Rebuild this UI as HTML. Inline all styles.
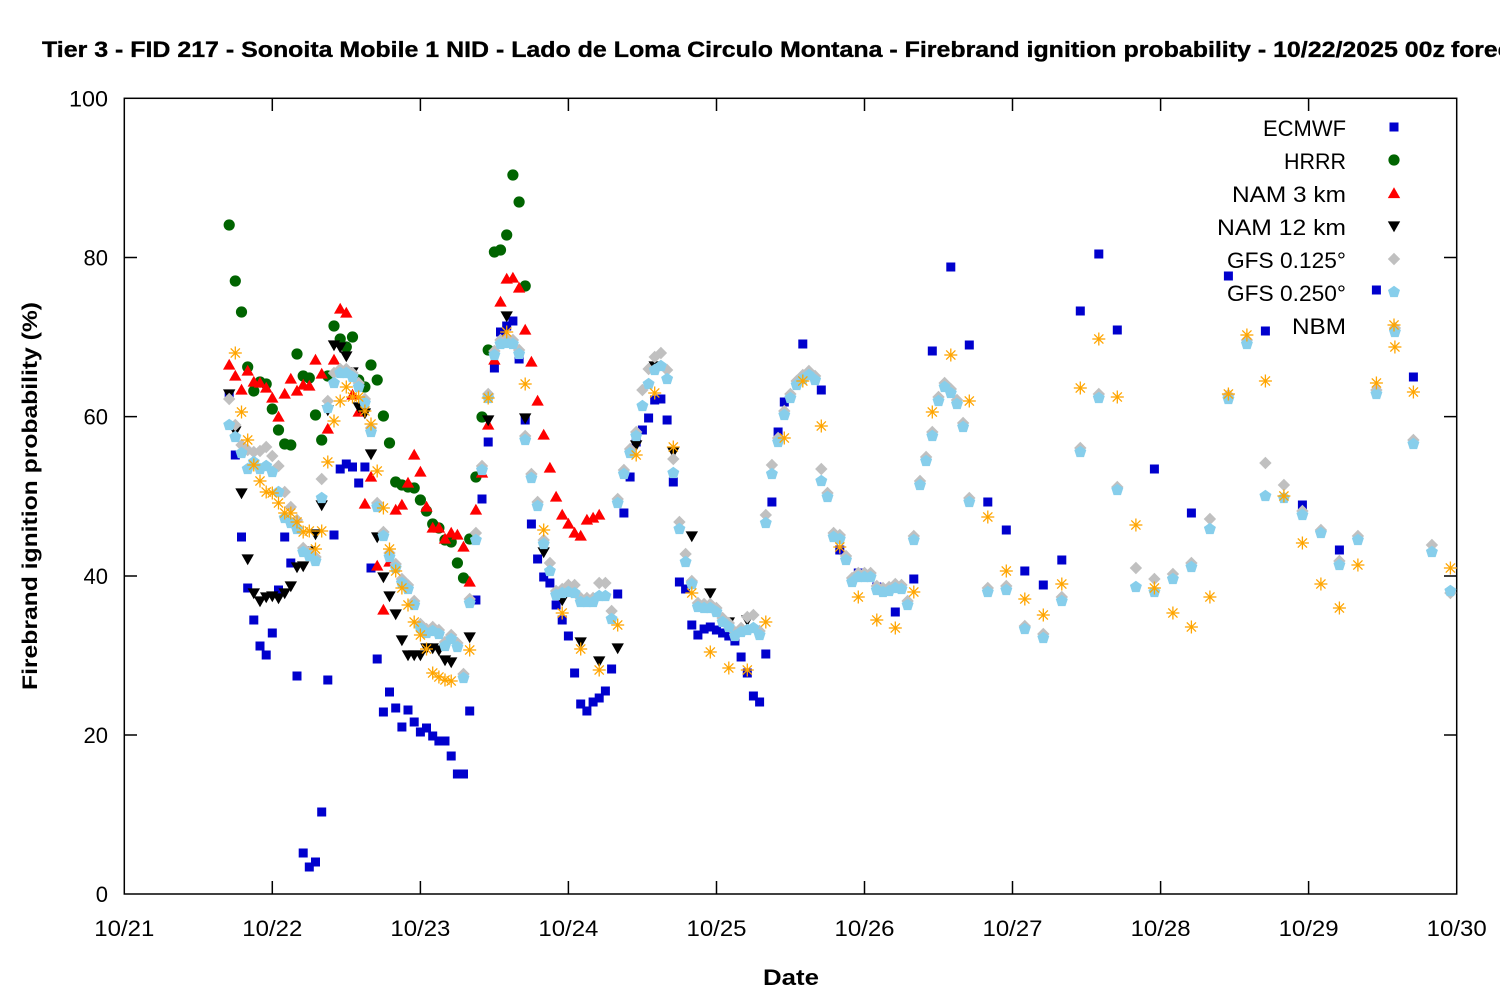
<!DOCTYPE html>
<html><head><meta charset="utf-8"><style>
html,body{margin:0;padding:0;background:#fff;}
svg{display:block;}
text{font-family:"Liberation Sans",Arial,sans-serif;fill:#000;}
</style></head><body>
<svg id="s" xmlns="http://www.w3.org/2000/svg" width="1500" height="1000" viewBox="0 0 1500 1000">
<defs>
<rect id="sq" x="-4.5" y="-4.5" width="9" height="9" fill="#0000cd"/>
<circle id="ci" r="5.6" fill="#006400"/>
<polygon id="tu" points="0,-6.2 6.2,4.6 -6.2,4.6" fill="#ff0000"/>
<polygon id="td" points="0,6.2 6.2,-4.6 -6.2,-4.6" fill="#000000"/>
<polygon id="di" points="0,-6.2 6.2,0 0,6.2 -6.2,0" fill="#c0c0c0"/>
<polygon id="pe" points="0,-6.3 6,-1.95 3.7,5.1 -3.7,5.1 -6,-1.95" fill="#87ceeb"/>
<g id="as" stroke="#ffa500" stroke-width="1.3" fill="none"><line x1="-6.5" y1="0" x2="6.5" y2="0"/><line x1="0" y1="-6.5" x2="0" y2="6.5"/><line x1="-4.6" y1="-4.6" x2="4.6" y2="4.6"/><line x1="-4.6" y1="4.6" x2="4.6" y2="-4.6"/></g>
</defs>
<rect x="0" y="0" width="1500" height="1000" fill="#fff"/>
<text x="42" y="57" font-size="22" font-weight="bold" stroke="#000" stroke-width="0.35" textLength="1403" lengthAdjust="spacingAndGlyphs">Tier 3 - FID 217 - Sonoita Mobile 1 NID - Lado de Loma Circulo Montana - Firebrand ignition probability - 10/22/2025 00z</text>
<text x="1451" y="57" font-size="22" font-weight="bold" stroke="#000" stroke-width="0.35" textLength="96" lengthAdjust="spacingAndGlyphs">forecast</text>
<g stroke="#000" stroke-width="1.5" fill="none">
<rect x="124.3" y="98.3" width="1332.4" height="795.7"/>
<path d="M124.3 735H137M124.3 576H137M124.3 416.6H137M124.3 257.5H137M1456.7 735H1444M1456.7 576H1444M1456.7 416.6H1444M1456.7 257.5H1444"/>
<path d="M272.3 894V881M420.4 894V881M568.4 894V881M716.5 894V881M864.5 894V881M1012.5 894V881M1160.6 894V881M1308.6 894V881M272.3 98.3V111M420.4 98.3V111M568.4 98.3V111M716.5 98.3V111M864.5 98.3V111M1012.5 98.3V111M1160.6 98.3V111M1308.6 98.3V111"/>
</g>
<g font-size="22" text-anchor="end">
<text x="108" y="902">0</text>
<text x="108" y="743">20</text>
<text x="108" y="584">40</text>
<text x="108" y="424.6">60</text>
<text x="108" y="265.5">80</text>
<text x="108" y="106.3" textLength="39" lengthAdjust="spacingAndGlyphs">100</text>
</g>
<g font-size="22" text-anchor="middle">
<text x="124.3" y="936" textLength="60" lengthAdjust="spacingAndGlyphs">10/21</text>
<text x="272.3" y="936" textLength="60" lengthAdjust="spacingAndGlyphs">10/22</text>
<text x="420.4" y="936" textLength="60" lengthAdjust="spacingAndGlyphs">10/23</text>
<text x="568.4" y="936" textLength="60" lengthAdjust="spacingAndGlyphs">10/24</text>
<text x="716.5" y="936" textLength="60" lengthAdjust="spacingAndGlyphs">10/25</text>
<text x="864.5" y="936" textLength="60" lengthAdjust="spacingAndGlyphs">10/26</text>
<text x="1012.5" y="936" textLength="60" lengthAdjust="spacingAndGlyphs">10/27</text>
<text x="1160.6" y="936" textLength="60" lengthAdjust="spacingAndGlyphs">10/28</text>
<text x="1308.6" y="936" textLength="60" lengthAdjust="spacingAndGlyphs">10/29</text>
<text x="1456.7" y="936" textLength="60" lengthAdjust="spacingAndGlyphs">10/30</text>
</g>
<text x="791" y="985" font-size="22" font-weight="bold" text-anchor="middle" textLength="56" lengthAdjust="spacingAndGlyphs">Date</text>
<text transform="translate(37,496) rotate(-90)" font-size="21" font-weight="bold" text-anchor="middle" textLength="388" lengthAdjust="spacingAndGlyphs">Firebrand ignition probability (%)</text>
<g font-size="22" text-anchor="end">
<text x="1346" y="136" textLength="83" lengthAdjust="spacingAndGlyphs">ECMWF</text>
<text x="1346" y="169" textLength="62" lengthAdjust="spacingAndGlyphs">HRRR</text>
<text x="1346" y="202" textLength="114" lengthAdjust="spacingAndGlyphs">NAM 3 km</text>
<text x="1346" y="235" textLength="129" lengthAdjust="spacingAndGlyphs">NAM 12 km</text>
<text x="1346" y="268" textLength="119" lengthAdjust="spacingAndGlyphs">GFS 0.125°</text>
<text x="1346" y="301" textLength="119" lengthAdjust="spacingAndGlyphs">GFS 0.250°</text>
<text x="1346" y="334" textLength="54" lengthAdjust="spacingAndGlyphs">NBM</text>
</g>
<g id="pts"></g>
</svg>
<script>
(function(){
var ns="http://www.w3.org/2000/svg";
var g=document.getElementById("pts");
function X(h){return 124.3+6.168*h;}
function parse(s){return s.split(",").map(function(p){var a=p.split(":");return [parseFloat(a[0]),parseFloat(a[1])];});}
function put(id,x,y){var u=document.createElementNS(ns,"use");u.setAttribute("href","#"+id);u.setAttributeNS("http://www.w3.org/1999/xlink","xlink:href","#"+id);u.setAttribute("x",x.toFixed(1));u.setAttribute("y",y.toFixed(1));g.appendChild(u);}
function add(id,arr){arr.forEach(function(p){put(id,X(p[0]),p[1]);});}
var EC=parse("17:394,18:455,19:537,20:588,21:620,22:646,23:655,24:633,25:590,26:537,27:563,28:676,29:853,30:867,31:862,32:812,33:680,34:535,35:469,36:464,37:467,38:483,39:467,40:568,41:659,42:712,43:692,44:708,45:727,46:710,47:722,48:732,49:728,50:736,51:741,52:741,53:756,54:774,55:774,56:711,57:600,58:499,59:442,60:368,61:332,62:326,63:321,64:359,65:420,66:524,67:559,68:577,69:583,70:605,71:620,72:636,73:673,74:704,75:711,76:702,77:698,78:691,79:669,80:594,81:513,82:477,83:442,84:430,85:418,86:400,87:399,88:420,89:482,90:582,91:589,92:625,93:635,94:629,95:627,96:630,97:633,98:636,99:641,100:657,101:673,102:696,103:702,104:654,105:502,106:432,107:402,110:344,113:390,116:550,119:573,122:587,125:612,128:579,131:351,134:267,137:345,140:502,143:530,146:571,149:585,152:560,155:311,158:254,161:330,167:469,173:513,179:276,185:331,191:505,197:550,203:290,209:377");
var HR=parse("17:225,18:281,19:312,20:367,21:391,22:382,23:384,24:409,25:430,26:444,27:445,28:354,29:376,30:378,31:415,32:440,33:376,34:326,35:339,36:347,37:337,38:380,39:387,40:365,41:380,42:416,43:443,44:482,45:485,46:487,47:488,48:500,49:511,50:524,51:528,52:540,53:542,54:563,55:578,56:539,57:477,58:417,59:350,60:252,61:250,62:235,63:175,64:202,65:286");
var N3=parse("17:365,18:376,19:390,20:371,21:382,22:383,23:388,24:398,25:417,26:394,27:379,28:391,29:385,30:386,31:360,32:374,33:429,34:360,35:309,36:313,37:395,38:412,39:504,40:477,41:566,42:610,43:562,44:510,45:505,46:483,47:455,48:472,49:507,50:528,51:528,52:539,53:533,54:535,55:547,56:582,57:510,58:473,59:425,60:360,61:302,62:279,63:278,64:288,65:330,66:362,67:401,68:435,69:468,70:497,71:515,72:524,73:533,74:536,75:520,76:518,77:515");
var N12=parse("17:394,18:431,19:493,20:559,21:593,22:601,23:597,24:596,25:598,26:593,27:586,28:567,29:566,30:551,31:534,32:505,33:410,34:345,35:347,36:356,37:372,38:407,39:413,40:454,41:537,42:577,43:596,44:614,45:640,46:655,47:655,48:655,49:648,50:648,51:650,52:660,53:662,56:637,59:420,62:316,65:418,68:552,71:600,74:642,77:661,80:648,83:445,86:366,89:452,92:536,95:593,98:622,101:620");
var SK=parse("17:425,18:437,19:453,20:469,21:462,22:469,23:466,24:472,25:492,26:518,27:523,28:529,29:552,30:556,31:561,32:498,33:408,34:383,35:373,36:373,37:377,38:387,39:403,40:432,41:507,42:536,43:557,44:568,45:583,46:589,47:605,48:628,49:633,50:631,51:634,52:646,53:639,54:647,55:678,56:603,57:540,58:470,59:398,60:355,61:344,62:343,63:344,64:354,65:440,66:478,67:506,68:544,69:571,70:595,71:593,72:592,73:593,74:602,75:602,76:602,77:596,78:596,79:619,80:503,81:474,82:453,83:436,84:406,85:384,86:370,87:366,88:379,89:473,90:529,91:562,92:584,93:607,94:608,95:608,96:612,97:622,98:627,99:636,100:632,101:630,102:628,103:635,104:523,105:474,106:442,107:415,108:398,109:385,110:379,111:375,112:380,113:481,114:497,115:537,116:539,117:560,118:582,119:577,120:577,121:577,122:590,123:592,124:591,125:588,126:589,127:605,128:540,129:485,130:461,131:436,132:401,133:387,134:393,135:404,136:427,137:502,140:592,143:590,146:629,149:638,152:601,155:452,158:398,161:490,164:587,167:592,170:579,173:567,176:529,179:399,182:344,185:496,188:498,191:515,194:533,197:565,200:540,203:394,206:332,209:444,212:552,215:591");
var GO={};parse("17:399,18:425,19:445,20:450,21:452,22:451,23:447,24:456,25:466,26:492,27:507,28:520,32:479,33:401,34:373,57:533,69:563,72:585,73:585,77:583,78:583,79:611,84:390,85:369,86:357,87:353,88:370,89:459,90:522,91:554,92:581,101:617,102:615,104:515,105:465,113:469,146:626,152:597,155:448,161:487,164:568,167:579,170:574,176:519,185:463,188:485,194:530,212:545,215:593").forEach(function(p){GO[p[0]]=p[1];});
var GR=SK.map(function(p){return [p[0], (GO[p[0]]!==undefined?GO[p[0]]:p[1]-4)];});
var NB=parse("18:353,19:412,20:440,21:465,22:481,23:492,24:493,25:503,26:513,27:513,28:522,29:532,30:531,31:549,32:531,33:462,34:421,35:401,36:387,37:397,38:397,39:411,40:424,41:471,42:508,43:549,44:571,45:588,46:605,47:622,48:635,49:649,50:673,51:677,52:680,53:681,56:650,59:398,62:332,65:384,68:530,71:613,74:649,77:670,80:625,83:455,86:393,89:447,92:593,95:652,98:668,101:670,104:622,107:438,110:381,113:426,116:547,119:597,122:620,125:628,128:592,131:412,134:355,137:401,140:517,143:571,146:599,149:615,152:584,155:388,158:339,161:397,164:525,167:588,170:613,173:627,176:597,179:394,182:335,185:381,188:496,191:543,194:584,197:608,200:565,203:383,206:347,209:392,215:568");
add("sq",EC);add("ci",HR);add("tu",N3);add("td",N12);add("di",GR);add("pe",SK);add("as",NB);
put("sq",1394,127);put("ci",1394,160);put("tu",1394,193.5);put("td",1394,226);put("di",1394,259);put("pe",1394,292);put("as",1394,325);
})();
</script>
</body></html>
